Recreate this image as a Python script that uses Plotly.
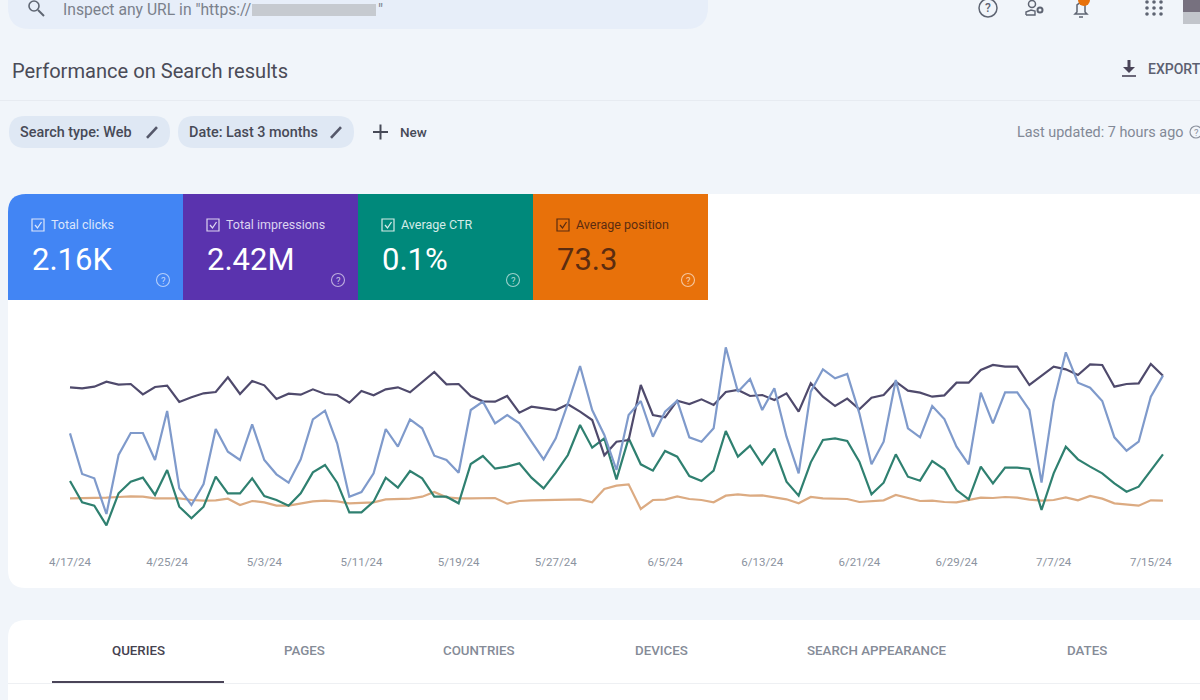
import pandas as pd
import plotly.graph_objects as go

dates = pd.date_range("2024-04-17", periods=91)
position = [458,455,460,475,466,468,437,459,463,414,428,440,444,488,438,477,464,423,439,436,452,438,435,412,447,434,452,458,443,474,504,
            467,468,432,416,415,432,382,400,395,390,407,385,360,254,295,300,465,375,368,418,408,422,405,444,450,432,435,420,440,385,470,
            430,402,424,392,427,435,475,448,442,430,434,472,472,510,525,520,520,465,492,520,512,495,527,525,460,468,470,528,493]
clicks = [320,198,185,78,255,321,321,240,387,155,105,168,333,265,240,347,240,197,172,242,362,388,290,130,144,200,333,280,362,335,253,
          240,202,390,415,350,375,350,295,242,305,410,522,390,315,210,375,417,310,385,418,308,295,335,578,445,483,390,455,310,200,445,
          512,485,498,380,227,295,480,335,308,402,363,280,227,442,350,443,443,390,172,415,563,472,457,417,308,268,295,430,493]
ctr = [177,113,103,44,140,175,187,135,210,100,65,100,190,140,140,185,132,120,103,140,203,225,172,83,83,115,187,157,207,185,130,
       130,110,228,252,214,220,230,187,155,202,255,345,277,305,182,305,227,208,267,250,192,177,208,327,250,283,227,274,175,133,233,
       300,305,297,235,137,172,257,190,178,237,212,150,122,220,170,217,217,213,90,200,280,242,220,200,170,145,160,207,257]
impressions = [125,125,125,127,129,131,130,125,125,125,120,118,119,124,105,117,113,103,103,110,116,118,116,110,112,113,122,123,124,130,144,
               128,125,125,126,126,109,117,119,119,120,121,122,113,153,163,167,93,120,121,131,123,120,113,133,137,133,134,128,122,110,129,
               125,123,123,114,117,119,135,127,117,118,114,113,120,127,126,129,127,121,118,120,128,119,132,124,110,107,103,119,118]

tick_dates = ["2024-04-17", "2024-04-25", "2024-05-03", "2024-05-11", "2024-05-19", "2024-05-27",
              "2024-06-05", "2024-06-13", "2024-06-21", "2024-06-29", "2024-07-07", "2024-07-15"]
tick_labels = ["4/17/24", "4/25/24", "5/3/24", "5/11/24", "5/19/24", "5/27/24",
               "6/5/24", "6/13/24", "6/21/24", "6/29/24", "7/7/24", "7/15/24"]

tile_names = ["Total clicks", "Total impressions", "Average CTR", "Average position"]
tile_values = ["2.16K", "2.42M", "0.1%", "73.3"]
tile_colors = ["#4285f4", "#5a33ae", "#00897b", "#e8710a"]
tile_text = ["#ffffff", "#ffffff", "#ffffff", "#5b2c10"]
tile_label_text = ["#dbe6fb", "#dcd4f0", "#d5ece8", "#5b2c10"]

tab_names = ["QUERIES", "PAGES", "COUNTRIES", "DEVICES", "SEARCH APPEARANCE", "DATES"]
tab_centers = [138, 304, 479, 661, 877, 1087]

W, H = 1200, 700
FONT = "Roboto"
PAGE = "#f1f5fa"


def px(x):
    return x / W


def py(y):
    return 1 - y / H


def rect(x0, y0, x1, y1, color, layer="below"):
    return dict(type="rect", xref="paper", yref="paper", x0=px(x0), x1=px(x1), y0=py(y0), y1=py(y1),
                fillcolor=color, line_width=0, layer=layer)


def path(points, fill=None, line=None, width=1.5, close=False):
    d = "M " + " L ".join(f"{px(x):.5f},{py(y):.5f}" for x, y in points)
    if close:
        d += " Z"
    return dict(type="path", xref="paper", yref="paper", path=d,
                fillcolor=fill if fill else "rgba(0,0,0,0)",
                line=dict(color=line if line else "rgba(0,0,0,0)", width=width), layer="above")


def round_rect(x0, y0, x1, y1, r, color, corners="tl tr br bl"):
    # rounded box as svg path, corners picks which ones get rounded
    c = corners.split()
    def pt(x, y):
        return f"{px(x):.5f},{py(y):.5f}"
    d = "M " + pt(x0 + (r if "tl" in c else 0), y0)
    d += " L " + pt(x1 - (r if "tr" in c else 0), y0)
    if "tr" in c:
        d += " Q " + pt(x1, y0) + " " + pt(x1, y0 + r)
    d += " L " + pt(x1, y1 - (r if "br" in c else 0))
    if "br" in c:
        d += " Q " + pt(x1, y1) + " " + pt(x1 - r, y1)
    d += " L " + pt(x0 + (r if "bl" in c else 0), y1)
    if "bl" in c:
        d += " Q " + pt(x0, y1) + " " + pt(x0, y1 - r)
    d += " L " + pt(x0, y0 + (r if "tl" in c else 0))
    if "tl" in c:
        d += " Q " + pt(x0, y0) + " " + pt(x0 + r, y0)
    d += " Z"
    return dict(type="path", xref="paper", yref="paper", path=d, fillcolor=color, line_width=0, layer="below")


def circle(cx, cy, r, line=None, fill=None, width=1.3):
    return dict(type="circle", xref="paper", yref="paper", x0=px(cx - r), x1=px(cx + r), y0=py(cy + r), y1=py(cy - r),
                fillcolor=fill if fill else "rgba(0,0,0,0)",
                line=dict(color=line if line else "rgba(0,0,0,0)", width=width), layer="above")


def label(x, y, text, size, color, anchor="left", weight=400):
    return dict(xref="paper", yref="paper", x=px(x), y=py(y), text=text, showarrow=False, xanchor=anchor, yanchor="middle",
                font=dict(family=FONT, size=size, color=color, weight=weight), borderpad=0, borderwidth=0)


def pencil(x, y):
    return path([(x - 5, y + 6), (x + 5, y - 5)], line="#55586a", width=2.6)


shapes = []
notes = []

# top bar
shapes.append(round_rect(8, -30, 708, 29, 22, "#e7eef9"))
shapes.append(circle(34, 6, 5, line="#5f6673", width=1.6))
shapes.append(path([(38, 10), (44, 16)], line="#5f6673", width=2))
notes.append(label(63, 9.5, 'Inspect any URL in "https://', 15.7, "#7b818c"))
shapes.append(rect(252, 4, 376, 16, "#c6cad0", layer="above"))
notes.append(label(378, 9.5, '"', 15.7, "#7b818c"))

shapes.append(circle(988, 8, 9, line="#5e6472", width=1.5))
notes.append(label(988, 8.5, "?", 12, "#5e6472", anchor="center", weight=500))
shapes.append(circle(1032, 4, 3.5, line="#5e6472", width=1.5))
shapes.append(path([(1026, 15), (1026, 12), (1031, 10), (1035, 11), (1035, 15), (1026, 15)], line="#5e6472", width=1.4))
shapes.append(circle(1040, 10, 2.5, line="#5e6472", width=2))
shapes.append(path([(1075, 14), (1077, 12), (1077, 5), (1081, 2), (1085, 5), (1085, 12), (1087, 14)],
                   line="#5e6472", width=1.5, close=True))
shapes.append(path([(1079, 17), (1083, 17)], line="#5e6472", width=1.5))
shapes.append(circle(1084, 0, 6, fill="#e8710a", width=0))
for gx in [1147, 1154, 1161]:
    for gy in [2, 8, 14]:
        shapes.append(circle(gx, gy, 1.8, fill="#5e6472", width=0))
shapes.append(rect(1183, 0, 1200, 12, "#77717f", layer="above"))
shapes.append(rect(1183, 12, 1200, 24, "#c2c5cb", layer="above"))

# header row
notes.append(label(12, 71, "Performance on Search results", 20.1, "#4a4b57"))
shapes.append(path([(1129, 60), (1129, 68)], line="#4a4458", width=3))
shapes.append(path([(1123, 67), (1135, 67), (1129, 73)], fill="#4a4458", close=True))
shapes.append(path([(1122, 76), (1136, 76)], line="#4a4458", width=1.6))
notes.append(label(1148, 69, "EXPORT", 14, "#5c6070", weight=500))
shapes.append(rect(0, 100, 1200, 101, "#e7ebf1"))

# filter chips
shapes.append(round_rect(9, 116, 170, 148, 16, "#dfe8f4"))
shapes.append(round_rect(178, 116, 354, 148, 16, "#dfe8f4"))
notes.append(label(20, 132, "Search type: Web", 14.4, "#474a57", weight=500))
shapes.append(pencil(152, 132))
notes.append(label(189, 132, "Date: Last 3 months", 14.4, "#474a57", weight=500))
shapes.append(pencil(336, 132))
shapes.append(path([(373, 132), (388, 132)], line="#474a57", width=2))
shapes.append(path([(380.5, 124.5), (380.5, 139.5)], line="#474a57", width=2))
notes.append(label(400, 132, "New", 13.5, "#474a57", weight=500))
notes.append(label(1017, 132, "Last updated: 7 hours ago", 14.4, "#828996"))
shapes.append(circle(1196, 132, 6, line="#8b919d", width=1.2))
notes.append(label(1196, 132.5, "?", 9.5, "#8b919d", anchor="center"))

# white cards
shapes.append(round_rect(8, 194, 1240, 588, 18, "#ffffff"))
shapes.append(round_rect(8, 620, 1240, 740, 18, "#ffffff"))

# metric tiles
for i in range(4):
    x0 = 8 + 175 * i
    corners = "tl" if i == 0 else ""
    shapes.append(round_rect(x0, 194, x0 + 175, 300, 18, tile_colors[i], corners))
    shapes.append(dict(type="rect", xref="paper", yref="paper", x0=px(x0 + 24), x1=px(x0 + 36), y0=py(231), y1=py(219),
                       fillcolor="rgba(0,0,0,0)", line=dict(color=tile_label_text[i], width=1.2), layer="above"))
    shapes.append(path([(x0 + 27, 225), (x0 + 29.5, 228), (x0 + 33.5, 222)], line=tile_label_text[i], width=1.3))
    notes.append(label(x0 + 43, 225, tile_names[i], 12.5, tile_label_text[i]))
    notes.append(label(x0 + 24, 259, tile_values[i], 31, tile_text[i]))
    shapes.append(circle(x0 + 155, 280, 6.5, line="rgba(255,255,255,0.6)", width=1.1))
    notes.append(label(x0 + 155, 280, "?", 9.5, "rgba(255,255,255,0.7)", anchor="center"))

# tabs
for name, cx in zip(tab_names, tab_centers):
    active = name == "QUERIES"
    notes.append(label(cx, 650, name, 13.3, "#45424f" if active else "#858b97", anchor="center", weight=500))
shapes.append(rect(52, 681, 224, 683, "#4a4458", layer="above"))
shapes.append(rect(8, 683, 1200, 684, "#eef0f3"))

fig = go.Figure()
fig.add_trace(go.Scatter(x=dates, y=impressions, mode="lines", name="Average position",
                         line=dict(color="#dcab82", width=2.2)))
fig.add_trace(go.Scatter(x=dates, y=ctr, mode="lines", name="Average CTR",
                         line=dict(color="#2f8070", width=2.2)))
fig.add_trace(go.Scatter(x=dates, y=position, mode="lines", name="Total impressions",
                         line=dict(color="#4f4a6c", width=2.2)))
fig.add_trace(go.Scatter(x=dates, y=clicks, mode="lines", name="Total clicks",
                         line=dict(color="#7f9acb", width=2.2)))

fig.update_layout(
    width=W, height=H,
    margin=dict(l=0, r=0, t=0, b=0),
    paper_bgcolor=PAGE,
    plot_bgcolor="rgba(0,0,0,0)",
    showlegend=False,
    shapes=shapes,
    annotations=notes,
    font=dict(family=FONT),
)
fig.update_xaxes(
    domain=[0, 1],
    range=["2024-04-11 05:40", "2024-07-19 01:12"],
    tickmode="array", tickvals=tick_dates, ticktext=tick_labels,
    tickfont=dict(family=FONT, size=11.5, color="#8b93a0"),
    ticks="outside", ticklen=6, tickcolor="rgba(0,0,0,0)",
    showgrid=False, zeroline=False, showline=False,
)
fig.update_yaxes(
    domain=[py(545), py(340)],
    range=[-15, 600],
    visible=False,
)

fig.write_html("out.html", config=dict(displayModeBar=False), post_script="document.body.style.margin='0';")
